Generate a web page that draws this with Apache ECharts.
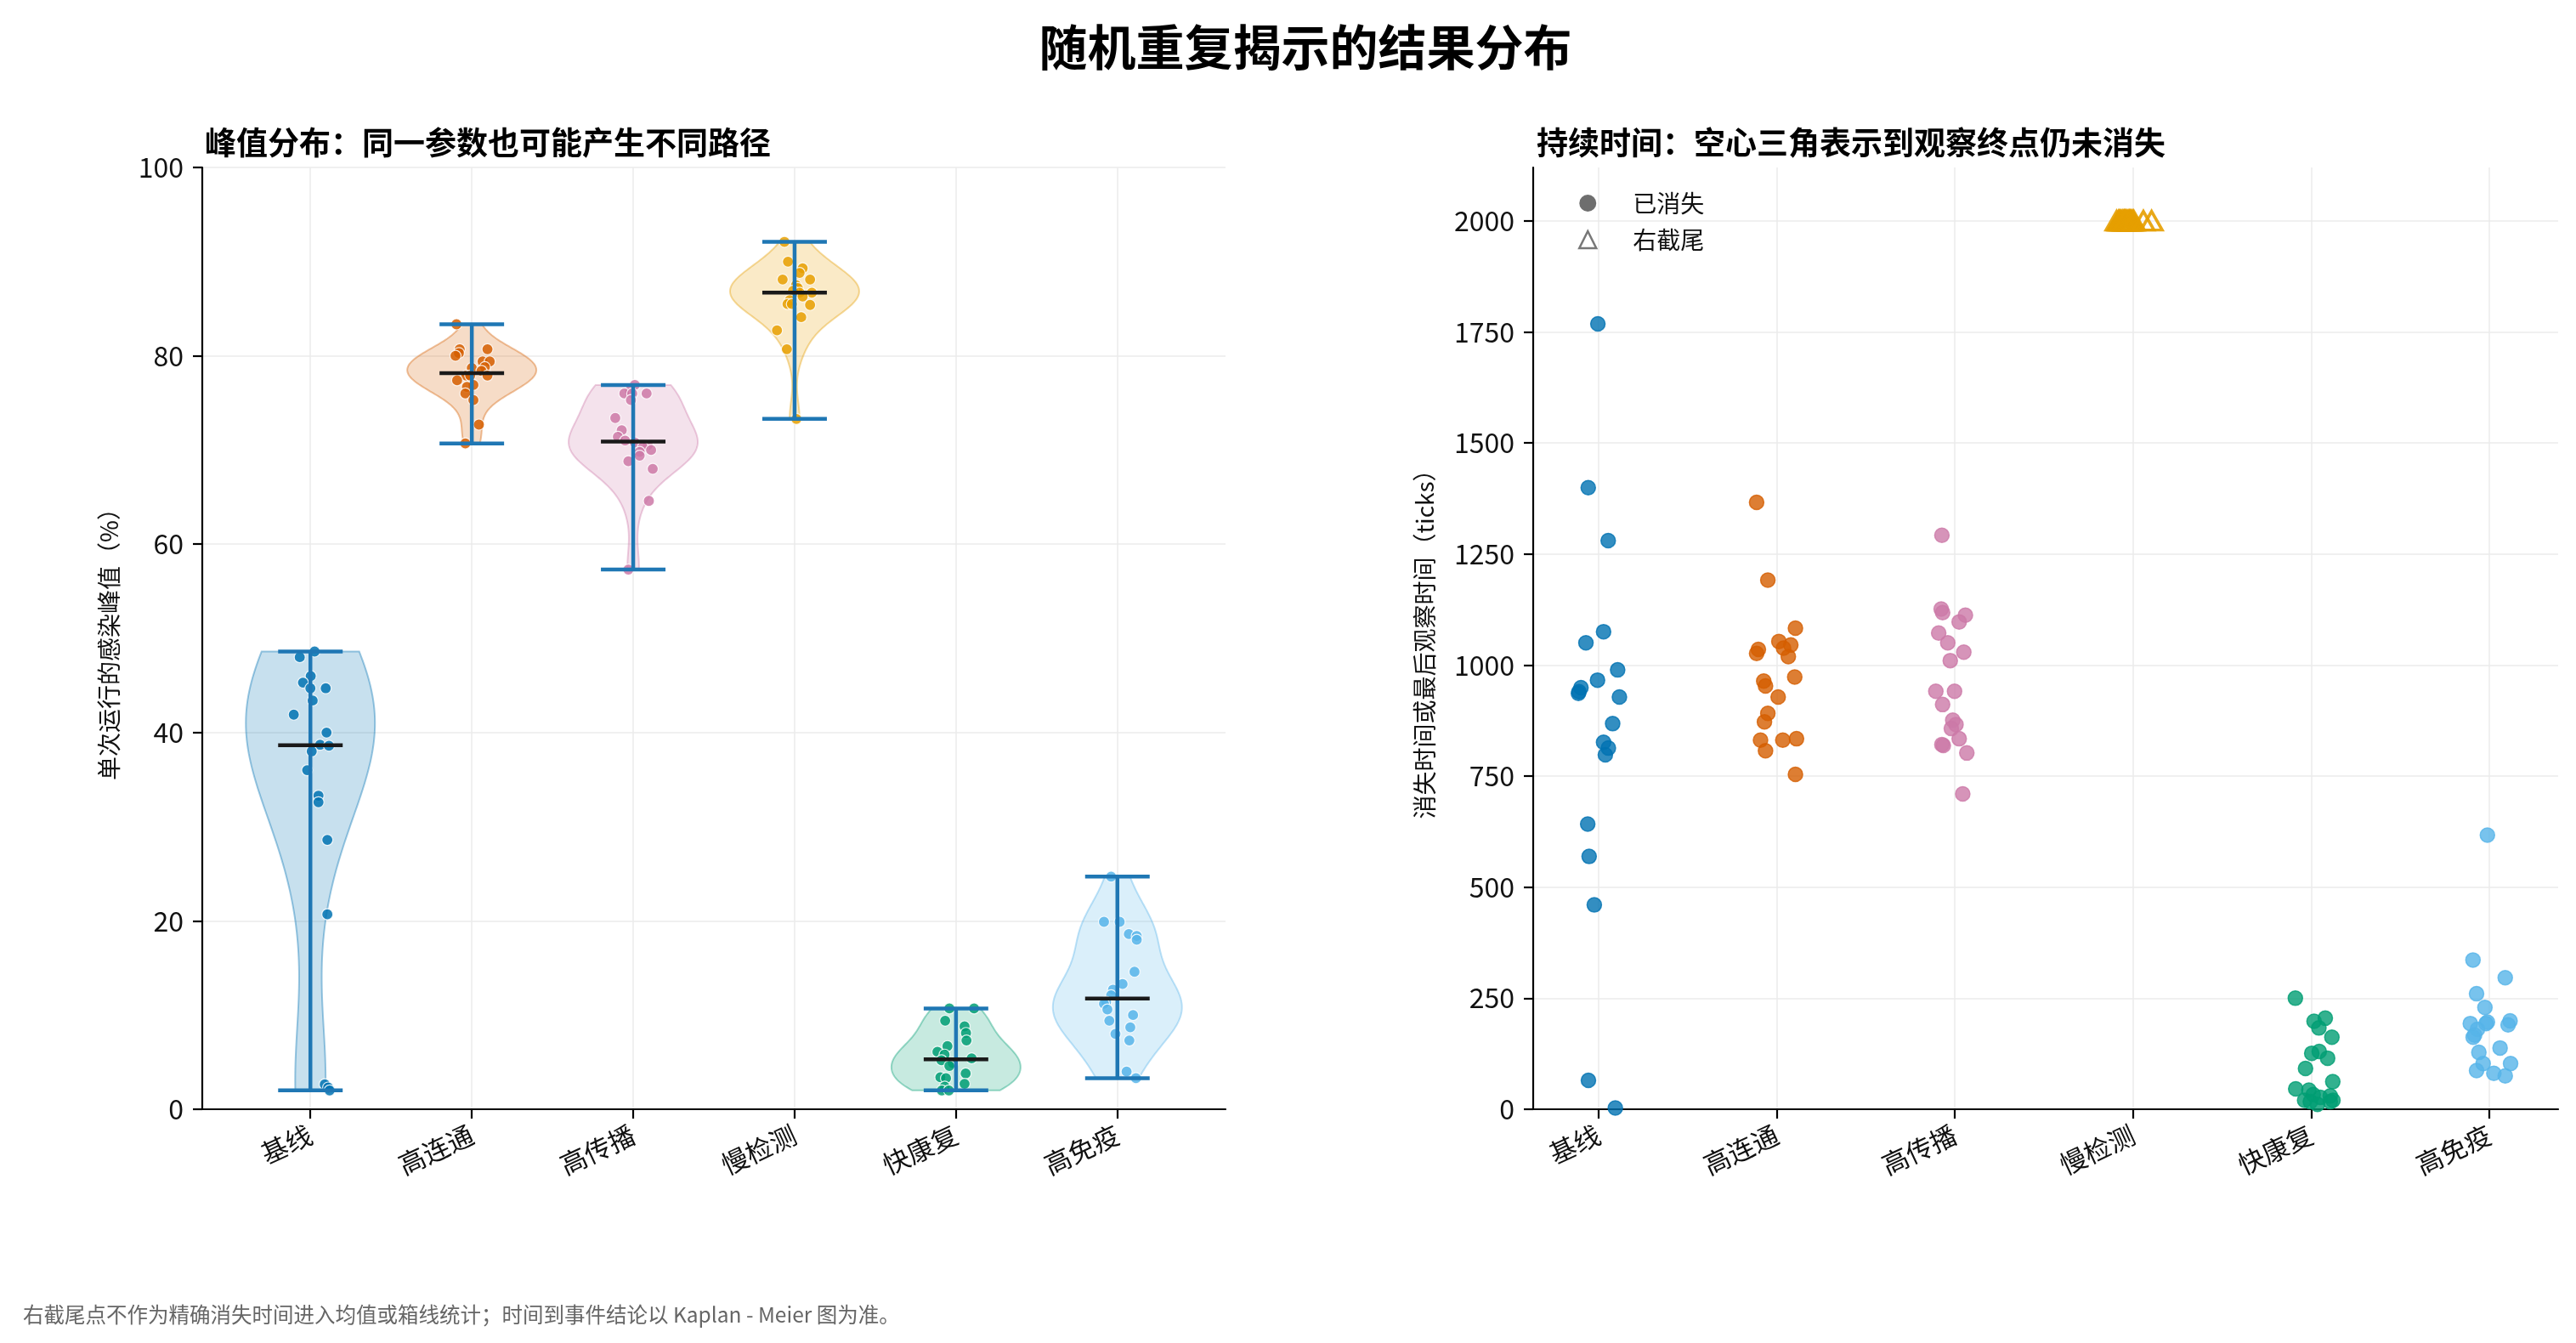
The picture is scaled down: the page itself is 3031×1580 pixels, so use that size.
<!DOCTYPE html>
<html>
<head>
<meta charset="utf-8">
<script src="https://cdn.jsdelivr.net/npm/echarts@6/dist/echarts.min.js"></script>
<style>
html,body{margin:0;padding:0;background:#fff;}
#chart{width:3031px;height:1580px;}
</style>
</head>
<body>
<div id="chart"></div>
<script>
// ---------- data ----------
const categories = ['基线', '高连通', '高传播', '慢检测', '快康复', '高免疫'];
const groupColors = ['#0072B2', '#D55E00', '#CC79A7', '#E69F00', '#009E73', '#56B4E9'];

// peak infection share (%) per run, and horizontal jitter
const peakBaseline = [48.6, 48.0, 46.0, 45.3, 44.7, 44.7, 43.4, 41.9, 40.0, 38.7, 38.6, 38.0, 36.0, 33.3, 32.6, 28.6, 20.7, 2.65, 2.3, 2.0];
const peakBaselineJitter = [0.026, -0.066, 0.002, -0.046, 0.0, 0.095, 0.014, -0.103, 0.100, 0.060, 0.115, 0.008, -0.020, 0.050, 0.050, 0.105, 0.105, 0.089, 0.110, 0.119];
const peakHighConn = [83.35, 80.7, 80.7, 80.3, 80.0, 79.4, 79.4, 78.8, 78.7, 78.4, 77.9, 77.9, 77.9, 77.4, 76.9, 76.7, 76.0, 75.3, 72.7, 70.7];
const peakHighConnJitter = [-0.095, -0.075, 0.097, -0.080, -0.101, 0.067, 0.111, 0.081, 0.0, 0.060, 0.097, -0.034, -0.010, -0.091, 0.010, -0.030, -0.040, 0.010, 0.044, -0.040];
const peakHighTrans = [76.9, 76.3, 76.0, 76.0, 76.0, 75.3, 73.4, 72.1, 71.4, 71.0, 70.8, 70.5, 70.3, 70.0, 69.8, 69.4, 68.8, 68.0, 64.6, 57.3];
const peakHighTransJitter = [0.010, -0.020, -0.055, -0.006, 0.083, -0.014, -0.111, -0.071, -0.095, -0.050, 0.010, 0.090, 0.060, 0.111, 0.040, 0.040, -0.030, 0.121, 0.097, -0.030];
const peakSlowDetect = [92.1, 90.0, 89.3, 88.8, 88.1, 88.1, 87.5, 87.2, 86.9, 86.7, 86.7, 86.3, 85.9, 85.5, 85.5, 85.4, 84.1, 82.7, 80.7, 73.3];
const peakSlowDetectJitter = [-0.063, -0.041, 0.050, 0.031, -0.074, 0.096, 0.009, 0.020, -0.010, 0.107, 0.031, 0.050, -0.030, -0.044, -0.017, 0.096, 0.041, -0.109, -0.048, 0.011];
const peakFastRecovery = [10.7, 10.7, 9.4, 8.8, 8.1, 7.3, 6.7, 6.1, 5.8, 5.4, 5.2, 4.9, 4.6, 3.8, 3.4, 3.3, 2.7, 2.4, 2.0, 2.0];
const peakFastRecoveryJitter = [-0.041, 0.112, -0.067, 0.053, 0.062, 0.065, -0.053, -0.115, -0.071, 0.097, -0.090, -0.020, -0.041, 0.060, -0.097, -0.062, 0.053, -0.070, -0.088, -0.044];
const peakHighImmunity = [24.7, 19.9, 19.9, 18.6, 18.4, 18.0, 14.6, 13.3, 12.7, 12.1, 11.4, 11.2, 10.6, 10.0, 9.4, 8.7, 8.0, 7.3, 4.0, 3.3];
const peakHighImmunityJitter = [-0.039, -0.083, 0.014, 0.071, 0.120, 0.120, 0.106, 0.032, -0.027, -0.039, -0.070, -0.083, -0.062, 0.097, -0.050, 0.080, -0.012, 0.074, 0.057, 0.115];

// extinction time or last observed time (ticks) per run, and jitter
const durBaseline = [1768, 1399, 1280, 1075, 1050, 989, 966, 949, 940, 936, 928, 868, 826, 813, 798, 642, 569, 460, 65, 3];
const durBaselineJitter = [-0.004, -0.058, 0.054, 0.028, -0.071, 0.107, -0.006, -0.099, -0.110, -0.113, 0.117, 0.079, 0.028, 0.055, 0.038, -0.061, -0.053, -0.024, -0.057, 0.094];
const durHighConn = [1366, 1191, 1083, 1053, 1045, 1038, 1035, 1026, 1019, 973, 964, 953, 928, 891, 872, 834, 831, 831, 807, 754];
const durHighConnJitter = [-0.113, -0.050, 0.105, 0.012, 0.079, 0.038, -0.103, -0.113, 0.065, 0.101, -0.073, -0.063, 0.008, -0.050, -0.069, 0.111, -0.091, 0.034, -0.063, 0.105];
const durHighTrans = [1292, 1126, 1118, 1112, 1097, 1072, 1050, 1029, 1010, 941, 941, 911, 876, 866, 857, 834, 821, 819, 802, 710];
const durHighTransJitter = [-0.073, -0.077, -0.069, 0.059, 0.024, -0.091, -0.040, 0.050, -0.026, -0.107, -0.002, -0.069, -0.012, 0.006, -0.020, 0.024, -0.073, -0.065, 0.067, 0.044];
const durSlowDetect = [2000, 2000, 2000, 2000, 2000, 2000, 2000, 2000, 2000, 2000, 2000, 2000, 2000, 2000, 2000, 2000, 2000, 2000, 2000, 2000];
const durSlowDetectJitter = [-0.092, -0.081, -0.077, -0.066, -0.071, -0.058, -0.049, -0.052, -0.040, -0.033, -0.044, -0.027, -0.018, -0.021, -0.009, -0.013, -0.002, 0.004, 0.058, 0.104];
const durFastRecovery = [250, 205, 198, 183, 162, 130, 126, 115, 92, 62, 46, 43, 33, 30, 27, 20, 20, 17, 17, 11];
const durFastRecoveryJitter = [-0.089, 0.079, 0.016, 0.043, 0.116, 0.045, 0.003, 0.092, -0.032, 0.121, -0.087, -0.013, 0.011, 0.107, 0.051, 0.122, -0.037, -0.005, 0.107, 0.035];
const durHighImmunity = [617, 336, 296, 260, 229, 199, 196, 193, 193, 190, 180, 167, 162, 138, 128, 103, 103, 87, 81, 75];
const durHighImmunityJitter = [-0.011, -0.092, 0.089, -0.072, -0.025, 0.116, -0.011, -0.107, -0.019, 0.105, -0.067, -0.083, -0.091, 0.060, -0.059, -0.035, 0.119, -0.072, 0.025, 0.089];

// right-censored groups (still present at end of observation)
const censoredGroup = [false, false, false, true, false, false];

const peakTicks = [0, 20, 40, 60, 80, 100];
const durationTicks = [0, 250, 500, 750, 1000, 1250, 1500, 1750, 2000];
const categoryPositions = [1, 2, 3, 4, 5, 6];

const peakGroups = [peakBaseline, peakHighConn, peakHighTrans, peakSlowDetect, peakFastRecovery, peakHighImmunity];
const peakJitters = [peakBaselineJitter, peakHighConnJitter, peakHighTransJitter, peakSlowDetectJitter, peakFastRecoveryJitter, peakHighImmunityJitter];
const durGroups = [durBaseline, durHighConn, durHighTrans, durSlowDetect, durFastRecovery, durHighImmunity];
const durJitters = [durBaselineJitter, durHighConnJitter, durHighTransJitter, durSlowDetectJitter, durFastRecoveryJitter, durHighImmunityJitter];

// ---------- helpers ----------
const FONT = '"Noto Sans CJK SC", "Noto Sans", sans-serif';
const VIOLIN_HALF = 0.4;
const CAP_HALF = 0.2;

function rgba(hex, a) {
  const n = parseInt(hex.slice(1), 16);
  return 'rgba(' + ((n >> 16) & 255) + ',' + ((n >> 8) & 255) + ',' + (n & 255) + ',' + a + ')';
}
function median(vals) {
  const s = vals.slice().sort((a, b) => a - b);
  const m = s.length >> 1;
  return s.length % 2 ? s[m] : (s[m - 1] + s[m]) / 2;
}
// Gaussian KDE (Scott's rule), like matplotlib's violinplot
function violinPolygon(vals, pos) {
  const n = vals.length;
  const mean = vals.reduce((a, b) => a + b, 0) / n;
  const sd = Math.sqrt(vals.reduce((a, b) => a + (b - mean) * (b - mean), 0) / (n - 1));
  const bw = sd * Math.pow(n, -0.2);
  const lo = Math.min(...vals), hi = Math.max(...vals);
  const ys = [], ds = [];
  const N = 100;
  for (let i = 0; i < N; i++) {
    const y = lo + (hi - lo) * i / (N - 1);
    let d = 0;
    for (const v of vals) d += Math.exp(-0.5 * ((y - v) / bw) * ((y - v) / bw));
    ys.push(y); ds.push(d);
  }
  const m = Math.max(...ds);
  const right = ys.map((y, i) => [pos + ds[i] / m * VIOLIN_HALF, y]);
  const left = ys.map((y, i) => [pos - ds[i] / m * VIOLIN_HALF, y]).reverse();
  return right.concat(left);
}
const violinPolys = peakGroups.map((g, i) => violinPolygon(g, categoryPositions[i]));

// ---------- series ----------
const series = [];

series.push({
  type: 'custom',
  name: 'violin',
  xAxisIndex: 0, yAxisIndex: 0,
  z: 1,
  silent: true,
  data: peakGroups.map((g, i) => [categoryPositions[i], median(g)]),
  renderItem: function (params, api) {
    const i = params.dataIndex;
    const pts = violinPolys[i].map(p => api.coord(p));
    return {
      type: 'polygon',
      shape: { points: pts },
      style: { fill: rgba(groupColors[i], 0.22), stroke: rgba(groupColors[i], 0.38), lineWidth: 2 }
    };
  }
});

peakGroups.forEach((g, i) => {
  series.push({
    type: 'scatter',
    name: categories[i] + '峰值',
    xAxisIndex: 0, yAxisIndex: 0,
    z: 3,
    symbol: 'circle',
    symbolSize: 13,
    itemStyle: { color: groupColors[i], opacity: 0.85, borderColor: '#ffffff', borderWidth: 1.2 },
    data: g.map((v, k) => [categoryPositions[i] + peakJitters[i][k], v])
  });
});

series.push({
  type: 'custom',
  name: 'stats',
  xAxisIndex: 0, yAxisIndex: 0,
  z: 5,
  silent: true,
  data: peakGroups.map((g, i) => [categoryPositions[i], median(g)]),
  renderItem: function (params, api) {
    const i = params.dataIndex;
    const vals = peakGroups[i];
    const pos = categoryPositions[i];
    const lo = Math.min(...vals), hi = Math.max(...vals), med = median(vals);
    const seg = (x1, y1, x2, y2, color) => {
      const a = api.coord([x1, y1]), b = api.coord([x2, y2]);
      return { type: 'line', shape: { x1: a[0], y1: a[1], x2: b[0], y2: b[1] }, style: { stroke: color, lineWidth: 4.5 } };
    };
    return {
      type: 'group',
      children: [
        seg(pos, lo, pos, hi, '#1f77b4'),
        seg(pos - CAP_HALF, lo, pos + CAP_HALF, lo, '#1f77b4'),
        seg(pos - CAP_HALF, hi, pos + CAP_HALF, hi, '#1f77b4'),
        seg(pos - CAP_HALF, med, pos + CAP_HALF, med, '#1a1a1a')
      ]
    };
  }
});

// right panel
const eventData = [], censorData = [];
durGroups.forEach((g, i) => {
  g.forEach((v, k) => {
    const pt = [categoryPositions[i] + durJitters[i][k], v];
    if (censoredGroup[i]) {
      censorData.push({ value: pt, itemStyle: { color: 'rgba(0,0,0,0)', borderColor: groupColors[i], borderWidth: 3.5, opacity: 0.9 } });
    } else {
      eventData.push({ value: pt, itemStyle: { color: groupColors[i], borderColor: groupColors[i], borderWidth: 1.5, opacity: 0.8 } });
    }
  });
});

series.push({
  type: 'scatter',
  name: '已消失',
  xAxisIndex: 1, yAxisIndex: 1,
  z: 3,
  symbol: 'circle',
  symbolSize: 17,
  itemStyle: { color: '#555555', opacity: 0.8 },
  data: eventData
});
series.push({
  type: 'scatter',
  name: '右截尾',
  xAxisIndex: 1, yAxisIndex: 1,
  z: 3,
  symbol: 'triangle',
  symbolSize: [25, 22],
  itemStyle: { color: 'rgba(0,0,0,0)', borderColor: '#555555', borderWidth: 2.5 },
  data: censorData
});

// ---------- axes ----------
function xAxisCfg(gridIndex, min, max) {
  return {
    type: 'value', gridIndex: gridIndex, min: min, max: max,
    axisLine: { show: true, onZero: false, lineStyle: { color: '#000', width: 2.2 } },
    axisTick: { show: true, customValues: categoryPositions, length: 11, lineStyle: { color: '#000', width: 2.2 } },
    axisLabel: {
      customValues: categoryPositions,
      formatter: v => categories[Math.round(v) - 1] || '',
      rotate: 25, margin: 28, fontSize: 31, color: '#111', fontFamily: FONT
    },
    splitLine: { show: true, lineStyle: { color: '#ebebeb', width: 1.5 } }
  };
}
function yAxisCfg(gridIndex, min, max, ticks, name, nameGap) {
  return {
    type: 'value', gridIndex: gridIndex, min: min, max: max,
    name: name, nameLocation: 'middle', nameGap: nameGap,
    nameTextStyle: { fontSize: 28, color: '#111', fontFamily: FONT },
    axisLine: { show: true, lineStyle: { color: '#000', width: 2.2 } },
    axisTick: { show: true, customValues: ticks, length: 11, lineStyle: { color: '#000', width: 2.2 } },
    axisLabel: { customValues: ticks, formatter: v => String(v), margin: 22, fontSize: 32, color: '#111', fontFamily: FONT },
    splitLine: { show: true, lineStyle: { color: '#ebebeb', width: 1.5 } }
  };
}

const option = {
  animation: false,
  backgroundColor: '#ffffff',
  textStyle: { fontFamily: FONT },
  title: [
    { text: '随机重复揭示的结果分布', left: 1531, textAlign: 'center', top: 22,
      textStyle: { fontSize: 57, fontWeight: 'bold', color: '#000', fontFamily: FONT } },
    { text: '峰值分布：同一参数也可能产生不同路径', left: 236, top: 144,
      textStyle: { fontSize: 37, fontWeight: 'bold', color: '#000', fontFamily: FONT } },
    { text: '持续时间：空心三角表示到观察终点仍未消失', left: 1803, top: 144,
      textStyle: { fontSize: 37, fontWeight: 'bold', color: '#000', fontFamily: FONT } },
    { text: '右截尾点不作为精确消失时间进入均值或箱线统计；时间到事件结论以 Kaplan - Meier 图为准。', left: 22, top: 1529,
      textStyle: { fontSize: 24.5, fontWeight: 'normal', color: '#666', fontFamily: FONT } }
  ],
  legend: {
    orient: 'vertical', left: 1852, top: 220,
    itemWidth: 20, itemHeight: 20, itemGap: 15,
    textStyle: { fontSize: 28, color: '#111', fontFamily: FONT, padding: [0, 0, 0, 38] },
    data: [
      { name: '已消失', icon: 'circle', itemStyle: { color: '#555555', opacity: 0.85, borderWidth: 0 } },
      { name: '右截尾', icon: 'triangle', itemStyle: { color: 'rgba(0,0,0,0)', borderColor: '#555555', borderWidth: 2.5 } }
    ]
  },
  grid: [
    { left: 238, top: 197, width: 1204, height: 1108 },
    { left: 1804, top: 197, width: 1206, height: 1108 }
  ],
  xAxis: [xAxisCfg(0, 0.33, 6.67), xAxisCfg(1, 0.633, 6.386)],
  yAxis: [
    yAxisCfg(0, 0, 100, peakTicks, '单次运行的感染峰值（%）', 96),
    yAxisCfg(1, 0, 2120, durationTicks, '消失时间或最后观察时间（ticks）', 114)
  ],
  series: series
};

const chart = echarts.init(document.getElementById('chart'), null, { renderer: 'canvas' });
chart.setOption(option);
</script>
</body>
</html>
